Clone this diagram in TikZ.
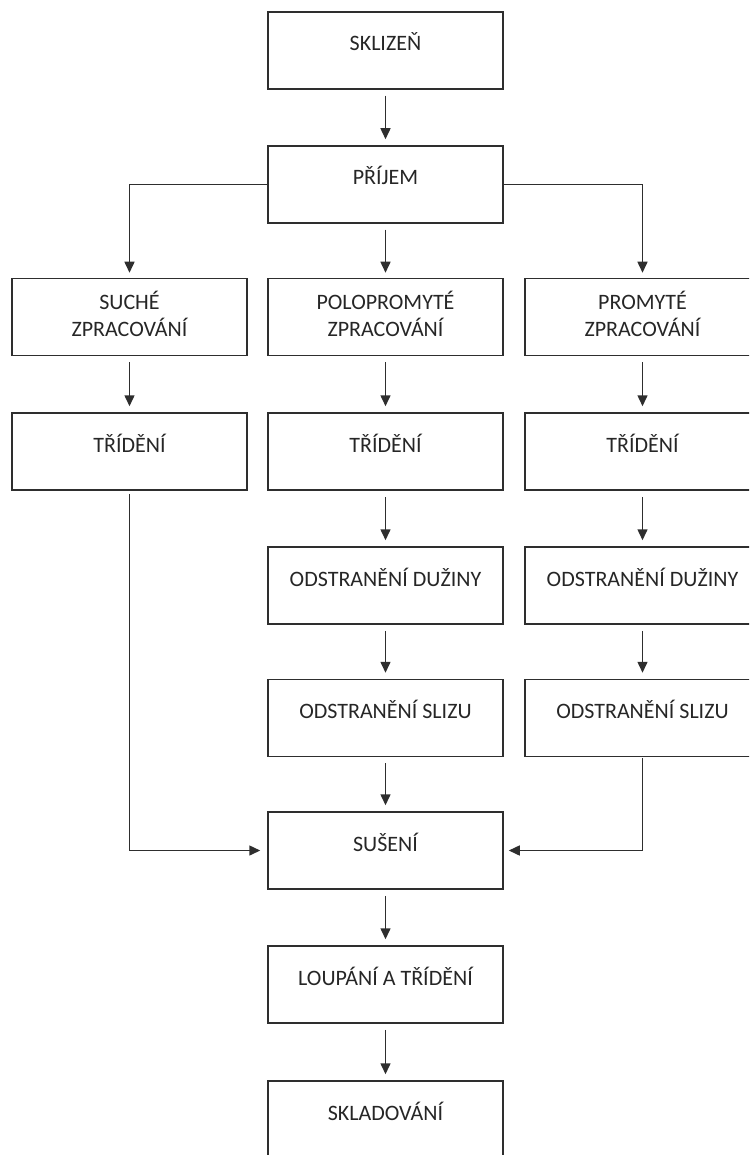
\documentclass[tikz,border=0pt]{standalone}
\usepackage{fontspec}
\setmainfont{Carlito}
\usetikzlibrary{arrows.meta}
\definecolor{linec}{HTML}{2E2E2E}
\definecolor{textc}{HTML}{262626}
\tikzset{
  box/.style={draw=linec, line width=1.5pt, inner sep=0pt, text=textc},
  arr/.style={draw=linec, line width=1.5pt, -{Triangle[length=11pt,width=10pt]}}
}
\newcommand\boxone[1]{\parbox[c][77pt][t]{235pt}{\fontsize{22}{26}\selectfont\centering\rule{0pt}{39pt}#1\par}}
\newcommand\boxtwo[2]{\parbox[c][77pt][t]{235pt}{\fontsize{22}{26}\selectfont\centering\rule{0pt}{31pt}#1\\\rule{0pt}{26pt}#2\par}}
\begin{document}
\begin{tikzpicture}[x=1pt,y=-1pt]
\useasboundingbox (0,0) rectangle (749,1155);
\clip (0,0) rectangle (749,1155);
% nodes
\node[box] (skl) at (385.5,50.5) {\boxone{SKLIZEŇ}};
\node[box] (pri) at (385.5,184.5) {\boxone{PŘÍJEM}};
\node[box] (such) at (129.5,317) {\boxtwo{SUCHÉ}{ZPRACOVÁNÍ}};
\node[box] (polo) at (385.5,317) {\boxtwo{POLOPROMYTÉ}{ZPRACOVÁNÍ}};
\node[box] (prom) at (642.5,317) {\boxtwo{PROMYTÉ}{ZPRACOVÁNÍ}};
\node[box] (tL) at (129.5,451.5) {\boxone{TŘÍDĚNÍ}};
\node[box] (tM) at (385.5,451.5) {\boxone{TŘÍDĚNÍ}};
\node[box] (tR) at (642.5,451.5) {\boxone{TŘÍDĚNÍ}};
\node[box] (dM) at (385.5,585.5) {\boxone{ODSTRANĚNÍ DUŽINY}};
\node[box] (dR) at (642.5,585.5) {\boxone{ODSTRANĚNÍ DUŽINY}};
\node[box] (sM) at (385.5,718) {\boxone{ODSTRANĚNÍ SLIZU}};
\node[box] (sR) at (642.5,718) {\boxone{ODSTRANĚNÍ SLIZU}};
\node[box] (sus) at (385.5,850.5) {\boxone{SUŠENÍ}};
\node[box] (lou) at (385.5,984.5) {\boxone{LOUPÁNÍ A TŘÍDĚNÍ}};
\node[box] (skd) at (385.5,1119.5) {\boxone{SKLADOVÁNÍ}};
% connectors
\draw[arr, shorten <=6pt, shorten >=6pt] (skl) -- (pri);
\draw[arr, shorten >=5pt] (pri.west) -| (such.north);
\draw[arr, shorten <=6pt, shorten >=5pt] (pri) -- (polo);
\draw[arr, shorten >=5pt] (pri.east) -| (prom.north);
\draw[arr, shorten <=6pt, shorten >=6pt] (such) -- (tL);
\draw[arr, shorten <=6pt, shorten >=6pt] (polo) -- (tM);
\draw[arr, shorten <=6pt, shorten >=6pt] (prom) -- (tR);
\draw[arr, shorten <=6pt, shorten >=6pt] (tM) -- (dM);
\draw[arr, shorten <=6pt, shorten >=6pt] (tR) -- (dR);
\draw[arr, shorten <=6pt, shorten >=6pt] (dM) -- (sM);
\draw[arr, shorten <=6pt, shorten >=6pt] (dR) -- (sR);
\draw[arr, shorten <=6pt, shorten >=6pt] (sM) -- (sus);
\draw[arr, shorten <=3pt, shorten >=7pt] (tL.south) |- (sus.west);
\draw[arr, shorten <=1pt, shorten >=5pt] (sR.south) |- (sus.east);
\draw[arr, shorten <=6pt, shorten >=6pt] (sus) -- (lou);
\draw[arr, shorten <=6pt, shorten >=6pt] (lou) -- (skd);
\end{tikzpicture}
\end{document}
